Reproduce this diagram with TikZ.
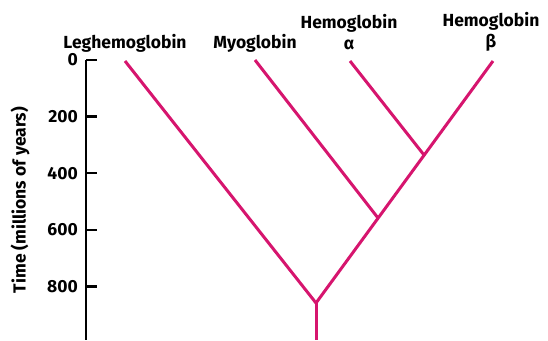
\documentclass[tikz,border=0pt]{standalone}
\usepackage{fontspec}
\setmainfont{Fira Sans}
\definecolor{tree}{HTML}{D6156E}
\begin{document}
\begin{tikzpicture}[x=1pt,y=-1pt,
  branch/.style={draw=tree,line width=3pt},
  axisline/.style={draw=black,line width=2.5pt},
  lab/.style={font=\fontsize{17.5}{18}\selectfont\bfseries,inner sep=0pt,align=center},
  ticklab/.style={font=\fontsize{17.5}{18}\selectfont\bfseries,inner sep=0pt,anchor=east}]
\useasboundingbox (0,0) rectangle (548,340);
% axis
\coordinate (ax0) at (86,60);
\coordinate (axb) at (86,340);
\draw[axisline] (ax0) -- (axb);
\foreach \v/\y in {0/60,200/116.6,400/173.2,600/229.8,800/286.4}{
  \coordinate (t\v) at (86,\y);
  \draw[axisline] (t\v) -- ++(11,0);
  \node[ticklab] (n\v) at (78,\y) {\v};
}
\node[lab,rotate=90] (ylab) at (20,200) {Time (millions of years)};
% tree
\coordinate (leg) at (125,61);
\coordinate (myo) at (255,60);
\coordinate (ha) at (350,61);
\coordinate (hb) at (493,61);
\coordinate (root) at (316,303);
\coordinate (rootb) at (316,340);
\coordinate (jm) at (378,218);
\coordinate (jab) at (424,155);
\draw[branch] (leg) -- (root) -- (hb);
\draw[branch] (root) -- (rootb);
\draw[branch] (myo) -- (jm);
\draw[branch] (ha) -- (jab);
% labels
\node[lab] (lleg) at (125,43) {Leghemoglobin};
\node[lab] (lmyo) at (255,43) {Myoglobin};
\node[lab] (lha) at (349,32) {Hemoglobin\\[3pt]α};
\node[lab] (lhb) at (491,32) {Hemoglobin\\[3pt]β};
\end{tikzpicture}
\end{document}
